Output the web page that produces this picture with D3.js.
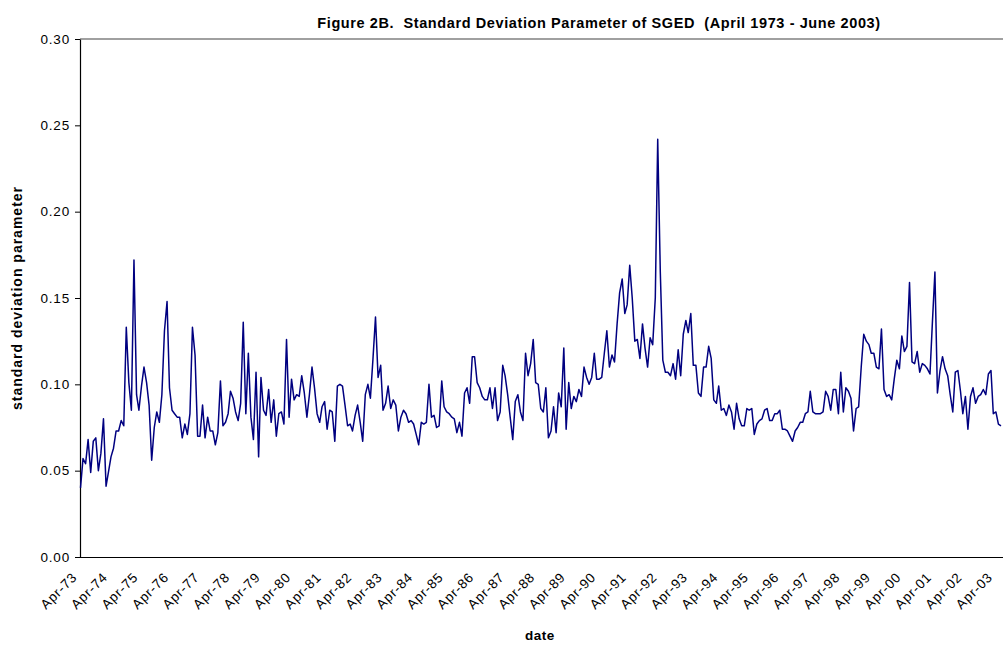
<!DOCTYPE html>
<html><head><meta charset="utf-8">
<script src="https://cdn.jsdelivr.net/npm/d3@7"></script>
<style>
body{margin:0;background:#fff}
text{font-family:Arial,"Liberation Sans",sans-serif}
</style>
</head><body>
<svg id="chart" width="1003" height="646"></svg>
<script>
const chartTitle = "Figure 2B.  Standard Deviation Parameter of SGED  (April 1973 - June 2003)";
const xTitle = "date";
const yTitle = "standard deviation parameter";
const startMonth = [1973, 3];   // April 1973
const endMonth = [2003, 5];     // June 2003
const tickLabels = ["Apr-73","Apr-74","Apr-75","Apr-76","Apr-77","Apr-78","Apr-79","Apr-80","Apr-81","Apr-82",
  "Apr-83","Apr-84","Apr-85","Apr-86","Apr-87","Apr-88","Apr-89","Apr-90","Apr-91","Apr-92",
  "Apr-93","Apr-94","Apr-95","Apr-96","Apr-97","Apr-98","Apr-99","Apr-00","Apr-01","Apr-02","Apr-03"];
const yTicks = [0, 0.05, 0.10, 0.15, 0.20, 0.25, 0.30];

// monthly values, Apr-73 onward
const sged1973 = [0.040,0.057,0.054,0.068,0.049,0.067,0.069,0.050,0.060,0.080,0.041,0.049,0.058,0.063,0.073,0.073,0.079,0.076,0.133,0.101,0.085,0.172,0.094,0.085,0.099,0.110,0.101,0.088,0.056,0.075,0.084,0.078,0.094,0.131,0.148,
  0.098,0.085,0.083,0.081,0.081,0.069,0.077,0.071,0.083,0.133,0.117,0.070,0.070,0.088,0.069,0.081,0.073,0.073,0.065,0.072,0.102,0.076,0.078,0.083,0.096,0.092,0.084,0.079,0.089,0.136,0.083,0.118,0.081,0.068,0.107];
const sged1979 = [0.058,0.104,0.085,0.082,0.097,0.078,0.091,0.070,0.083,0.084,0.077,0.126,0.081,0.103,0.091,0.094,0.093,0.105,0.095,0.081,0.094,0.110,0.098,0.083,0.078,0.087,0.090,0.074,0.085,0.084,0.067,0.099,0.100,0.099,0.088,0.076,
  0.077,0.073,0.082,0.088,0.078,0.067,0.094,0.100,0.092,0.115,0.139,0.104,0.111,0.085,0.089,0.099,0.086,0.091,0.088,0.073,0.081,0.085,0.083,0.078,0.079,0.077,0.071,0.065,0.078,0.077,0.078,0.100,0.081,0.082,0.075];
const sged1985 = [0.076,0.102,0.087,0.084,0.083,0.081,0.080,0.072,0.078,0.070,0.095,0.098,0.089,0.116,0.116,0.101,0.098,0.093,0.091,0.091,0.098,0.086,0.098,0.079,0.084,0.111,0.105,0.094,0.081,0.068,0.090,0.094,0.084,0.079,0.118,
  0.105,0.112,0.126,0.101,0.100,0.086,0.084,0.098,0.069,0.073,0.087,0.072,0.095,0.087,0.121,0.074,0.101,0.086,0.093,0.090,0.097,0.093,0.110,0.104,0.100,0.104,0.118,0.103,0.103,0.104,0.118,0.131,0.110,0.117,0.113,0.135];
const sged1991 = [0.153,0.161,0.141,0.146,0.169,0.150,0.125,0.126,0.115,0.135,0.121,0.110,0.127,0.123,0.150,0.242,0.165,0.114,0.107,0.107,0.105,0.112,0.103,0.120,0.105,0.129,0.137,0.130,0.141,0.111,0.111,0.095,0.093,0.110,0.110,
  0.122,0.115,0.091,0.089,0.099,0.085,0.086,0.082,0.088,0.084,0.074,0.089,0.080,0.076,0.076,0.086,0.085,0.086,0.071,0.077,0.079,0.080,0.085,0.086,0.079,0.079,0.083,0.083,0.085,0.074,0.074,0.073,0.070,0.067,0.073,0.075];
const sged1997 = [0.078,0.078,0.083,0.084,0.096,0.084,0.083,0.083,0.083,0.084,0.096,0.093,0.085,0.097,0.097,0.083,0.107,0.084,0.098,0.096,0.092,0.073,0.086,0.087,0.110,0.129,0.125,0.123,0.118,0.118,0.110,0.109,0.132,0.097,0.093,0.094,
  0.091,0.103,0.114,0.109,0.128,0.119,0.122,0.159,0.113,0.112,0.119,0.107,0.112,0.111,0.109,0.106,0.135,0.165,0.095,0.108,0.116,0.109,0.105,0.094,0.084,0.107,0.108,0.096,0.083,0.093,0.074,0.093,0.098,0.089,0.093,0.094,0.097,0.094,0.106,0.108,0.083,0.084,0.077,0.076];

const values = [].concat(sged1973, sged1979, sged1985, sged1991, sged1997);
const t0 = new Date(startMonth[0], startMonth[1], 1);
const data = values.map((v, i) => ({date: d3.timeMonth.offset(t0, i), v}));

const svg = d3.select("#chart");
const L = 80, R = 1001, T = 39, B = 557;

const x = d3.scaleTime()
  .domain([t0, new Date(endMonth[0], endMonth[1], 1)])
  .range([L + 0.5, R]);
const y = d3.scaleLinear().domain([0, 0.30]).range([B, T]);

// top border of plot area
svg.append("line").attr("x1", L).attr("x2", 1003).attr("y1", T).attr("y2", T)
  .attr("stroke", "#808080").attr("stroke-width", 1.5);

// y axis
const yAxis = svg.append("g").attr("transform", `translate(${L},0)`)
  .call(d3.axisLeft(y).tickValues(yTicks).tickFormat(d3.format(".2f")).tickSize(5).tickSizeOuter(0));
yAxis.select(".domain").attr("stroke", "#000").attr("stroke-width", 1.2);
yAxis.selectAll(".tick line").attr("stroke", "#000");
yAxis.selectAll(".tick text").attr("font-size", 13.5).attr("fill", "#000")
  .style("letter-spacing", "0.8px").attr("x", -10);

// x axis
const tickDates = tickLabels.map((s, i) => new Date(startMonth[0] + i, 3, 1));
const xAxis = svg.append("g").attr("transform", `translate(0,${B})`)
  .call(d3.axisBottom(x).tickValues(tickDates).tickFormat((d, i) => tickLabels[i]).tickSize(0).tickSizeOuter(0));
xAxis.select(".domain").attr("stroke", "#000").attr("stroke-width", 1.2).attr("d", `M${L},0.5H1003`);
xAxis.selectAll(".tick text")
  .attr("font-size", 13.5).attr("fill", "#000")
  .style("letter-spacing", "0.8px")
  .attr("text-anchor", "end")
  .attr("dy", 0).attr("y", 0)
  .attr("transform", "translate(-3,21) rotate(-45)");

// line
svg.append("path").datum(data)
  .attr("fill", "none").attr("stroke", "#000080").attr("stroke-width", 1.5)
  .attr("stroke-linejoin", "round")
  .attr("d", d3.line().x(d => x(d.date)).y(d => y(d.v)));

// titles
svg.append("text").attr("x", 599).attr("y", 28).attr("text-anchor", "middle")
  .attr("font-size", 14.5).attr("font-weight", "bold").style("letter-spacing", "0.6px")
  .style("white-space", "pre").text(chartTitle);
svg.append("text").attr("x", 540).attr("y", 640).attr("text-anchor", "middle")
  .attr("font-size", 13.5).attr("font-weight", "bold").style("letter-spacing", "0.5px").text(xTitle);
svg.append("text").attr("transform", "translate(22,298) rotate(-90)").attr("text-anchor", "middle")
  .attr("font-size", 14).attr("font-weight", "bold").style("letter-spacing", "1px").text(yTitle);
</script>
</body></html>
